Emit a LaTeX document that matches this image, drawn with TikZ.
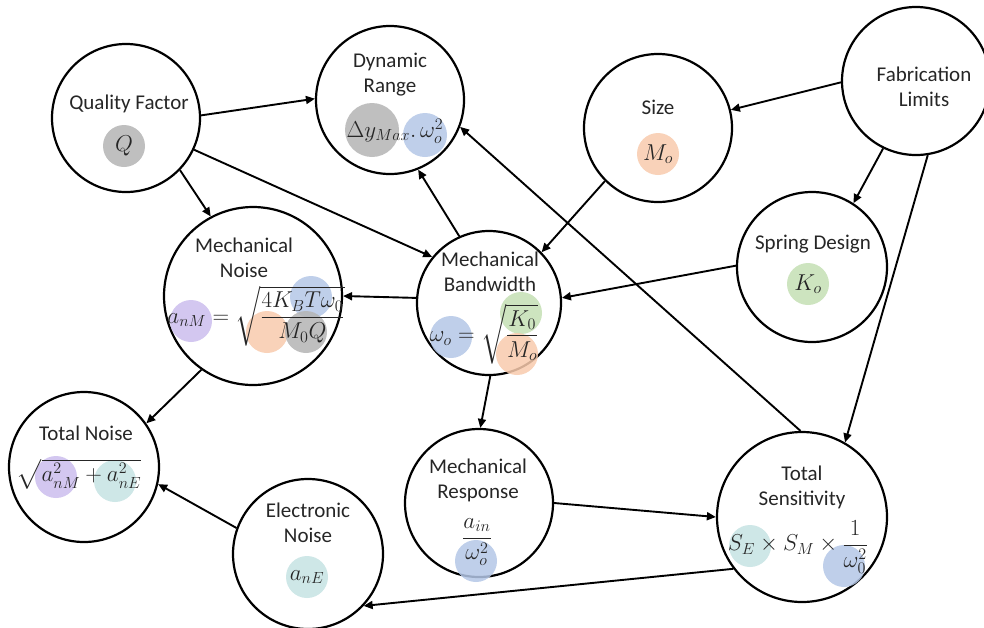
\RequirePackage{fix-cm}
\documentclass[tikz,border=0pt]{standalone}
\usepackage{amsmath}
\usepackage[no-math]{fontspec}
\setmainfont{Carlito}
\usetikzlibrary{arrows.meta}
\definecolor{txt}{RGB}{38,38,38}
\definecolor{hlgray}{RGB}{180,180,180}
\definecolor{hlblue}{RGB}{180,199,231}
\definecolor{hlorange}{RGB}{248,203,173}
\definecolor{hlgreen}{RGB}{197,224,180}
\definecolor{hlpurple}{RGB}{204,190,238}
\definecolor{hlteal}{RGB}{198,227,227}
\tikzset{
  bubble/.style={draw,circle,line width=2.2pt,inner sep=0pt,minimum size=#1},
  arr/.style={line width=1.9pt,-{Triangle[length=9pt,width=8pt]}},
  hl/.style={fill=#1,fill opacity=.85},
  lbl/.style={align=center,text=txt,inner sep=0pt,font=\fontsize{21}{25}\selectfont},
  eq/.style={text=txt,inner sep=0pt,font=\fontsize{23}{27}\selectfont}
}

\begin{document}
\begin{tikzpicture}[x=1pt,y=-1pt]
  \fill[white] (0,0) rectangle (984,627);
  \useasboundingbox (0,0) rectangle (984,627);
  % circles
  \foreach \n/\x/\y/\r in {qf/126/118/74,dr/390/100/74,sz/658/128/74,fl/916/81/74,
    sd/812/267/75,mn/253/296/89,mb/489/303/72,tn/84/467/75,en/308/554/75,
    mr/479/503/74,ts/802/517/85}{
    \node[bubble=2*\r pt] (\n) at (\x,\y) {};}
  % highlight disks
  \foreach \x/\y/\r/\c in {124/146/21/hlgray,372/130/27/hlgray,425/135/22/hlblue,
    658/154/21/hlorange,808/284/21/hlgreen,191/321/21/hlpurple,311/297/21/hlblue,
    267/332/21/hlorange,306/332/21/hlgray,451/337/21/hlblue,521/313/21/hlgreen,
    517/354/21/hlorange,56/477/21/hlpurple,115/481/21/hlteal,307/577/21/hlteal,
    476/561/21/hlblue,750/546/21/hlteal,844/566/21/hlblue}{
    \fill[hl=\c] (\x,\y) circle[radius=\r];}
  % labels
  \node[lbl] (qft) at (129,104) {Quality Factor};
  \node[lbl] (drt) at (390,74.5) {Dynamic\\Range};
  \node[lbl] (szt) at (658,107) {Size};
  \node[lbl] (flt) at (924,86.5) {Fabrication\\Limits};
  \node[lbl] (sdt) at (813,244) {Spring Design};
  \node[lbl] (mnt) at (244,258) {Mechanical\\Noise};
  \node[lbl] (mbt) at (490,272) {Mechanical\\Bandwidth};
  \node[lbl] (tnt) at (86,433) {Total Noise};
  \node[lbl] (ent) at (308,522.5) {Electronic\\Noise};
  \node[lbl] (mrt) at (478,480) {Mechanical\\Response};
  \node[lbl] (tst) at (802,487.5) {Total\\Sensitivity};
  % formulas
  \node[eq] (qfe) at (124,146) {$Q$};
  \node[eq] (dre) at (395,131) {$\Delta y_{Max}.\,\omega_o^2$};
  \node[eq] (sze) at (658,154) {$M_o$};
  \node[eq] (sde) at (808,284) {$K_o$};
  \node[eq] (mne) at (256,316) {$a_{nM}=\sqrt{\dfrac{4K_BT\omega_0}{M_0Q}}$};
  \node[eq] (mbe) at (484,334) {$\omega_o=\sqrt{\dfrac{K_0}{M_o}}$};
  \node[eq] (tne) at (79,474) {$\sqrt{a_{nM}^2+a_{nE}^2}$};
  \node[eq] (ene) at (307,577) {$a_{nE}$};
  \node[eq] (mre) at (477,542) {$\dfrac{a_{in}}{\omega_o^2}$};
  \node[eq] (tse) at (798,547) {$S_E\times S_M\times\dfrac{1}{\omega_0^2}$};
  % connectors
  \foreach \a/\b in {qf.2/dr.179,qf.-44/mn.118,qf.-25/mb.141,mb.114/dr.-68,
    sz.-135/mb.44,fl.181/sz.14,fl.-116/sd.57,fl.-81/ts.60,sd.179/mb.4,
    mb.176/mn.0,mb.-89/mr.89,mn.-125/tn.35,en.160/tn.-13,mr.0/ts.180,
    ts.91/dr.-21,ts.-143/en.-43}{
    \draw[arr] (\a) -- (\b);}
\end{tikzpicture}
\end{document}
